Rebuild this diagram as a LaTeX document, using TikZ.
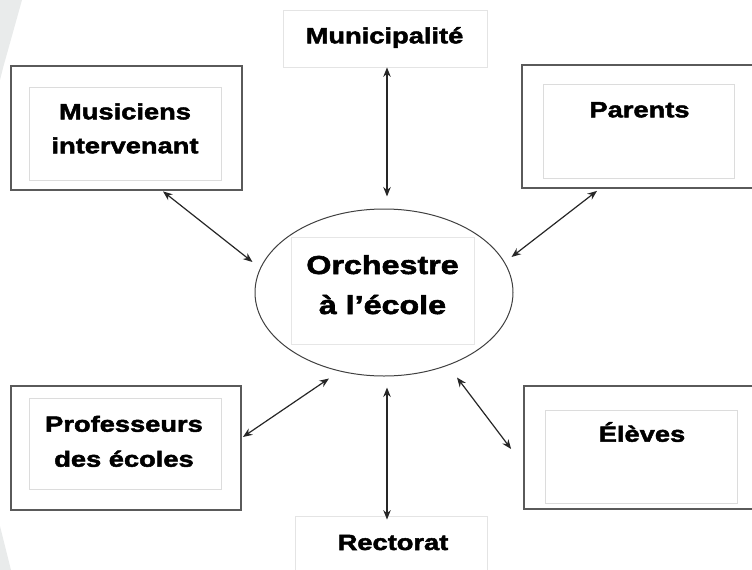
\documentclass[tikz,border=0pt]{standalone}
\usepackage{fontspec}
\newfontfamily\lbl[FakeStretch=1.24,FakeBold=2.2]{Liberation Sans Bold}
\usetikzlibrary{arrows.meta,shapes.geometric}
\definecolor{bgband}{HTML}{E9EBEB}
\definecolor{outerc}{HTML}{5A5A5A}
\definecolor{innerc}{HTML}{DCDCDC}
\definecolor{paleframe}{HTML}{E4E4E4}
\tikzset{
  outerbox/.style={draw=outerc, line width=1.8pt, rectangle, inner sep=0pt},
  innerbox/.style={draw=innerc, line width=0.8pt, rectangle, inner sep=0pt},
  palebox/.style={draw=paleframe, line width=0.8pt, rectangle, inner sep=0pt},
  lab/.style={anchor=base, inner sep=0pt, font=\lbl\fontsize{22}{26}\selectfont},
  biglab/.style={anchor=base, inner sep=0pt, font=\lbl\fontsize{26}{30}\selectfont},
  arr/.style={{Stealth[length=9.5pt,width=7.5pt]}-{Stealth[length=9.5pt,width=7.5pt]}, line width=1.2pt, draw=black!85},
}
\begin{document}
\begin{tikzpicture}[x=1pt, y=-1pt]
\useasboundingbox (0,0) rectangle (752,570);
% faint background band
\fill[bgband] (0,0) -- (22,0) -- (3,68) -- (0,80) -- cycle;
\fill[bgband] (0,526) -- (11,570) -- (0,570) -- cycle;

% frames
\node[palebox, minimum width=204pt, minimum height=57pt] (mun) at (385,38.5) {};
\node[outerbox, minimum width=231pt, minimum height=124pt] (musO) at (126.5,128) {};
\node[innerbox, minimum width=192pt, minimum height=93pt] (musI) at (125,133.5) {};
\node[outerbox, minimum width=238pt, minimum height=123pt] (parO) at (641,126.5) {};
\node[innerbox, minimum width=191pt, minimum height=94pt] (parI) at (638.5,131) {};
\node[draw=black!75, line width=1pt, ellipse, inner sep=0pt, minimum width=258pt, minimum height=167pt] (orch) at (384,292.5) {};
\node[innerbox, draw=innerc!70, minimum width=183pt, minimum height=107pt] (orchI) at (382.5,290.5) {};
\node[outerbox, minimum width=230pt, minimum height=124pt] (profO) at (126,448) {};
\node[innerbox, minimum width=192pt, minimum height=91pt] (profI) at (125,443.5) {};
\node[palebox, minimum width=192pt, minimum height=64pt] (rect) at (391,548) {};
\node[outerbox, minimum width=236pt, minimum height=123pt] (elO) at (642,447.5) {};
\node[innerbox, minimum width=192pt, minimum height=93pt] (elI) at (641,456.5) {};

% labels
\node[lab] (tmun) at (384.5,43.3) {Municipalité};
\node[lab] (tmus1) at (125,119.3) {Musiciens};
\node[lab] (tmus2) at (125,153.3) {intervenant};
\node[lab] (tpar) at (639.5,117.3) {Parents};
\node[biglab] (torch1) at (382.5,274) {Orchestre};
\node[biglab] (torch2) at (382.5,314) {à l’école};
\node[lab] (tprof1) at (124,431.7) {Professeurs};
\node[lab] (tprof2) at (124,466.7) {des écoles};
\node[lab] (trect) at (393,550) {Rectorat};
\node[lab] (tel) at (642,441.7) {Élèves};

% connectors
\draw[arr] ([xshift=2pt]mun.south) -- ([xshift=3pt,yshift=12pt]orch.north);
\draw[arr] ([xshift=36.5pt,yshift=-0.5pt]musO.south) -- ([xshift=-2pt,yshift=30.5pt]orch.west);
\draw[arr] ([xshift=-44pt,yshift=-2pt]parO.south) -- ([xshift=-2pt,yshift=35.5pt]orch.east);
\draw[arr] ([xshift=1pt,yshift=11pt]profO.east) -- ([xshift=-55pt,yshift=-2pt]orch.south);
\draw[arr] ([xshift=3pt,yshift=-11pt]orch.south) -- ([xshift=-4pt,yshift=-4pt]rect.north);
\draw[arr] ([xshift=73pt,yshift=-1pt]orch.south) -- ([xshift=-12pt,yshift=-1.5pt]elO.west);
\end{tikzpicture}
\end{document}
